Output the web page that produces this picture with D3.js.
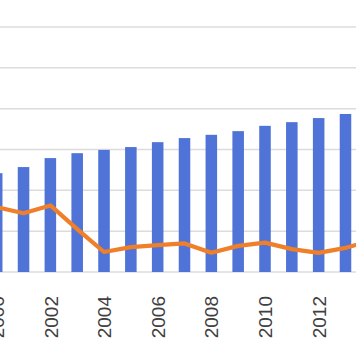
<!DOCTYPE html>
<html><head><meta charset="utf-8">
<script src="https://cdn.jsdelivr.net/npm/d3@7"></script>
<style>html,body{margin:0;padding:0;background:#fff;overflow:hidden}</style>
</head><body>
<svg id="c" width="356" height="364"></svg>
<script>
const years = [2000,2001,2002,2003,2004,2005,2006,2007,2008,2009,2010,2011,2012,2013,2014];
const barValues = [24.2,25.7,27.9,29.1,29.9,30.6,31.8,32.8,33.6,34.5,35.8,36.7,37.7,38.7,39.7];
const lineValues = [15.9,14.4,16.3,10.5,4.9,6.1,6.6,7.0,4.7,6.4,7.2,5.6,4.7,5.9,7.8];
const yTicks = [0,10,20,30,40,50,60,70];
const tickLabels = [2000,2002,2004,2006,2008,2010,2012];

const svg = d3.select("#c");
const x = d3.scalePoint().domain(years).range([-3.3, -3.3 + 26.83*14]);
const y = d3.scaleLinear().domain([0,70]).range([272, 272 - 70*4.083]);
const bw = x.step()*0.43;

// gridlines
svg.append("g").selectAll("line").data(yTicks).join("line")
  .attr("x1",0).attr("x2",356)
  .attr("y1",d=>y(d)).attr("y2",d=>y(d))
  .attr("stroke","#dcdcdc").attr("stroke-width",1.5);

// bars
svg.append("g").selectAll("rect").data(years).join("rect")
  .attr("x",(d)=>x(d)-bw/2).attr("width",bw)
  .attr("y",(d,i)=>y(barValues[i]))
  .attr("height",(d,i)=>y(0)-y(barValues[i]))
  .attr("fill","#4f73d6");

// line
const line = d3.line().x((d,i)=>x(years[i])).y(d=>y(d));
svg.append("path").datum(lineValues).attr("d",line)
  .attr("fill","none").attr("stroke","#f07f2a").attr("stroke-width",4.2)
  .attr("stroke-linejoin","round").attr("stroke-linecap","round");

// x axis labels
const axis = d3.axisBottom(x).tickValues(tickLabels).tickSize(0).tickPadding(0);
const ax = svg.append("g").attr("transform","translate(0,272)").call(axis);
ax.select(".domain").remove();
ax.selectAll("text")
  .attr("transform","translate(0,24) rotate(-90)")
  .attr("x",0).attr("y",0).attr("dy","0.35em")
  .attr("text-anchor","end")
  .attr("font-family","Liberation Sans, Arial, sans-serif")
  .attr("font-size",19).attr("fill","#404040");
</script>
</body></html>
